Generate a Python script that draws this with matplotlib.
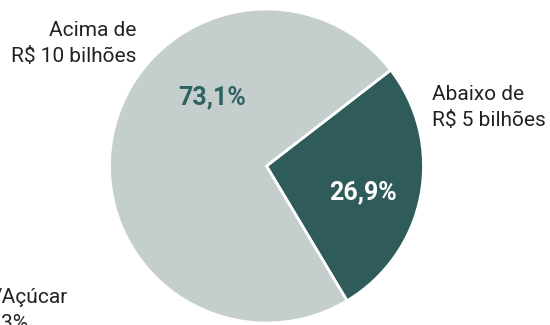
import matplotlib
matplotlib.use("Agg")
import matplotlib.pyplot as plt

# Dados do gráfico
categorias = ["Abaixo de\nR$ 5 bilhões", "Acima de\nR$ 10 bilhões"]
valores = [26.9, 73.1]
cores = ["#2f5c5b", "#c4cfcd"]
rotulos_pct = ["26,9%", "73,1%"]

plt.rcParams["font.family"] = ["Roboto", "DejaVu Sans"]

H = 325  # altura em pixels, para converter coordenadas de cima para baixo


def main():
    fig = plt.figure(figsize=(5.5, 3.25), dpi=100)
    ax = fig.add_axes([0, 0, 1, 1])

    # centro e raio em pixels
    cx, cy, r = 266.5, H - 166, 157
    ax.pie(valores, colors=cores, startangle=37.7, counterclock=False,
           center=(cx, cy), radius=r, frame=False,
           wedgeprops=dict(edgecolor="white", linewidth=2))
    ax.set_xlim(0, 550)
    ax.set_ylim(0, H)
    ax.set_aspect("equal")
    ax.axis("off")

    # percentuais
    ax.text(363, H - 199, rotulos_pct[0], color="white", fontsize=18,
            fontweight="bold", ha="center", va="baseline")
    ax.text(212, H - 104, rotulos_pct[1], color="#2f6262", fontsize=18,
            fontweight="bold", ha="center", va="baseline")

    # rótulos das categorias
    ax.text(432, H - 126, categorias[0], color="#222222", fontsize=15,
            ha="left", va="baseline", linespacing=1.45)
    ax.text(136, H - 62, categorias[1], color="#222222", fontsize=15,
            ha="right", va="baseline", linespacing=1.45,
            multialignment="right")

    # rótulo cortado de outro gráfico
    ax.text(68, H - 303, "/Açúcar", color="#222222", fontsize=15,
            ha="right", va="baseline")
    ax.text(28, H - 329, "3%", color="#222222", fontsize=15,
            ha="right", va="baseline")

    fig.savefig("out.png", dpi=100)


if __name__ == "__main__":
    main()
